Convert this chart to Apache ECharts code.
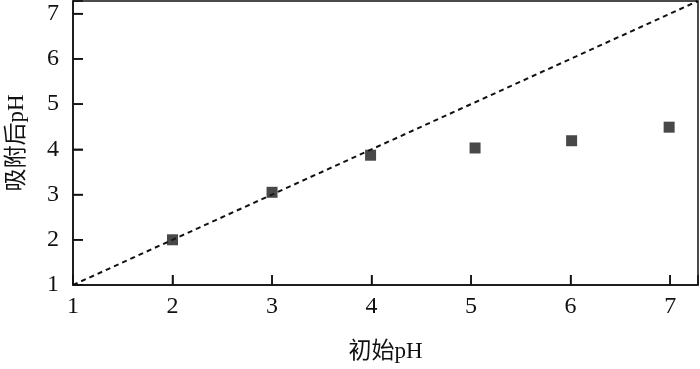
<!DOCTYPE html>
<html><head><meta charset="utf-8">
<script src="https://cdn.jsdelivr.net/npm/echarts@6/dist/echarts.min.js"></script>
<style>html,body{margin:0;padding:0;background:#fff}#c{width:700px;height:369px}</style>
</head><body><div id="c"></div>
<script>
const initialPH = [2, 3, 3.99, 5.04, 6.01, 6.99];
const afterPH = [2.0, 3.05, 3.87, 4.03, 4.19, 4.49];
const refLine = [[1, 1], [7.28, 7.28]];
const xTicks = [1, 2, 3, 4, 5, 6, 7];
const yTicks = [1, 2, 3, 4, 5, 6, 7];
const xName = '初始pH';
const yName = '吸附后pH';

const font = 'Liberation Serif, Noto Sans CJK SC, serif';
const chart = echarts.init(document.getElementById('c'));
function mkAxis(name, gap, margin, rotate) {
  return {
    type: 'value', min: 1, max: 7.28, interval: 1,
    name: name, nameLocation: 'middle', nameGap: gap, nameRotate: rotate,
    nameTextStyle: {color: '#111', fontFamily: font, fontSize: 23},
    axisLine: {show: true, onZero: false, lineStyle: {color: '#111', width: 1.5}},
    axisTick: {show: true, inside: true, length: 10, lineStyle: {color: '#111', width: 1.5}},
    splitLine: {show: false},
    axisLabel: {show: true, color: '#111', fontFamily: font, fontSize: 24, margin: margin,
      formatter: v => (xTicks.indexOf(v) >= 0 ? String(v) : '')}
  };
}
const tickStyle = {stroke: '#111', lineWidth: 1.5};
chart.setOption({
  animation: false,
  grid: {left: 73, right: 2, top: 1, bottom: 84, outerBoundsMode: 'none', containLabel: false,
    show: true, borderColor: '#111', borderWidth: 1.5, backgroundColor: 'transparent'},
  xAxis: mkAxis(xName, 55, 10, 0),
  yAxis: mkAxis(yName, 45, 14, 90),
  series: [
    {type: 'custom', silent: true, clip: false, z: 5,
     data: xTicks.slice(1).map(v => [v, 1]),
     renderItem: (params, api) => {
       const p = api.coord([api.value(0), api.value(1)]);
       return {type: 'line', shape: {x1: p[0], y1: p[1], x2: p[0], y2: p[1] - 10}, style: tickStyle};
     }},
    {type: 'custom', silent: true, clip: false, z: 5,
     data: yTicks.slice(1).map(v => [1, v]),
     renderItem: (params, api) => {
       const p = api.coord([api.value(0), api.value(1)]);
       return {type: 'line', shape: {x1: p[0], y1: p[1], x2: p[0] + 10, y2: p[1]}, style: tickStyle};
     }},
    {type: 'line', data: refLine, symbol: 'none', silent: true, z: 3,
     lineStyle: {color: '#111', width: 2, type: [5, 4]}},
    {type: 'scatter', data: initialPH.map((x, i) => [x, afterPH[i]]), z: 4,
     symbol: 'rect', symbolSize: 11, itemStyle: {color: '#1a1a1a'}}
  ]
});
</script></body></html>
